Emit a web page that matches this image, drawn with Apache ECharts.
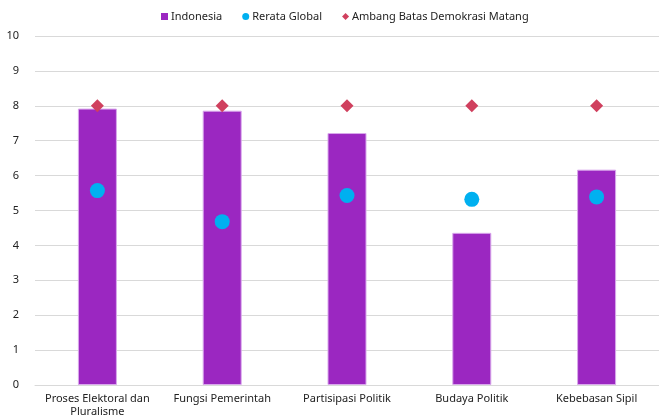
<!DOCTYPE html>
<html>
<head>
<meta charset="utf-8">
<script src="https://cdn.jsdelivr.net/npm/echarts@6/dist/echarts.min.js"></script>
<style>
html, body { margin: 0; padding: 0; background: #fff; }
#chart { width: 659px; height: 418px; }
</style>
</head>
<body>
<div id="chart"></div>
<script>
var categories = ['Proses Elektoral dan\nPluralisme', 'Fungsi Pemerintah', 'Partisipasi Politik', 'Budaya Politik', 'Kebebasan Sipil'];
var indonesia = [7.92, 7.86, 7.22, 4.36, 6.17];
var globalAvg = [5.57, 4.68, 5.43, 5.32, 5.39];
var threshold = [8, 8, 8, 8, 8];

var myChart = echarts.init(document.getElementById('chart'));
var font = 'Noto Sans';

myChart.setOption({
    animation: false,
    textStyle: {fontFamily: font},
    legend: {
        top: 6,
        left: 156,
        itemWidth: 7,
        itemHeight: 7,
        itemGap: 20,
        textStyle: {fontSize: 11, color: '#222', fontFamily: font, padding: [0, 0, 0, -2]},
        data: [
            {name: 'Indonesia', icon: 'rect', itemStyle: {borderWidth: 0}},
            {name: 'Rerata Global', icon: 'circle'},
            {name: 'Ambang Batas Demokrasi Matang', icon: 'diamond'}
        ]
    },
    grid: {left: 35, right: -3, top: 36, bottom: 32},
    xAxis: {
        type: 'category',
        data: categories,
        axisTick: {show: false},
        axisLine: {lineStyle: {color: '#d9d9d9'}},
        axisLabel: {color: '#222', fontSize: 11, lineHeight: 13, margin: 7, interval: 0}
    },
    yAxis: {
        type: 'value',
        min: 0,
        max: 10,
        interval: 1,
        axisLabel: {color: '#222', fontSize: 11, margin: 16},
        splitLine: {lineStyle: {color: '#d9d9d9'}}
    },
    series: [
        {
            name: 'Indonesia',
            type: 'bar',
            data: indonesia,
            barWidth: 39,
            itemStyle: {color: '#9B27C1', borderColor: '#D9A8EC', borderWidth: 1}
        },
        {
            name: 'Rerata Global',
            type: 'scatter',
            data: globalAvg,
            symbol: 'circle',
            symbolSize: 15,
            itemStyle: {color: '#00B0F0', opacity: 1},
            z: 3
        },
        {
            name: 'Ambang Batas Demokrasi Matang',
            type: 'scatter',
            data: threshold,
            symbol: 'diamond',
            symbolSize: 13,
            itemStyle: {color: '#D0405E', opacity: 1},
            z: 4
        }
    ]
});
</script>
</body>
</html>
